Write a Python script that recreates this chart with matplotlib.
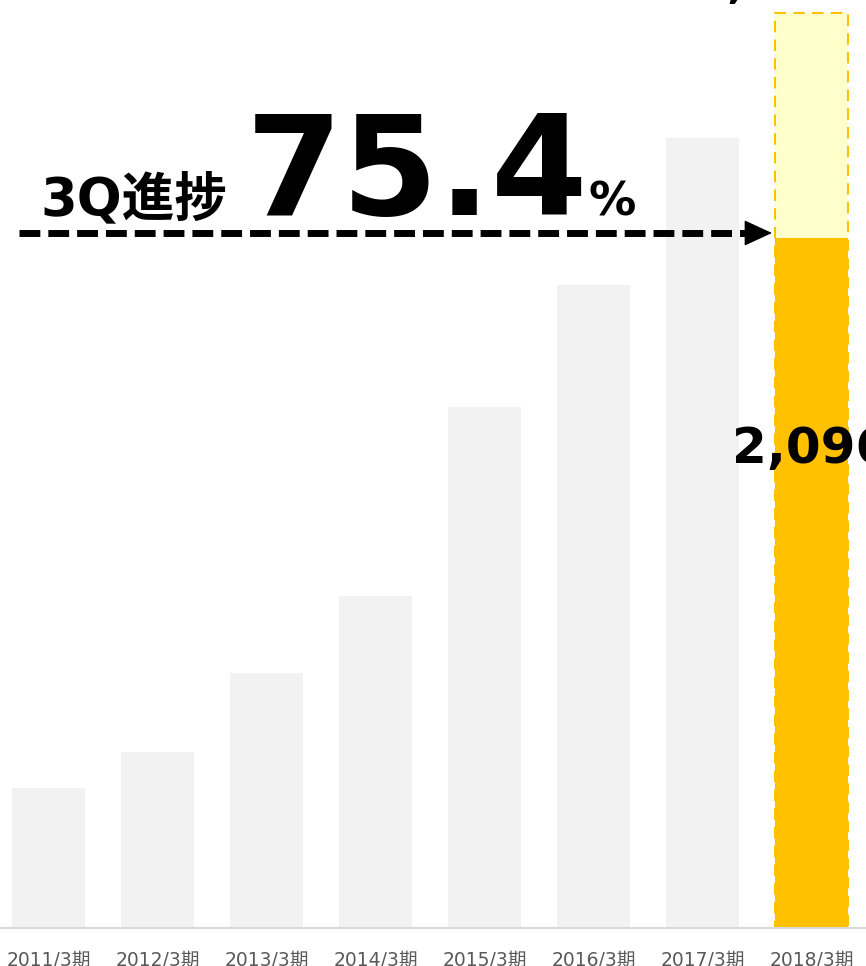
import matplotlib
matplotlib.use('Agg')
import matplotlib.pyplot as plt
from matplotlib.lines import Line2D

periods = ['2011/3期', '2012/3期', '2013/3期', '2014/3期',
           '2015/3期', '2016/3期', '2017/3期', '2018/3期']
past_values = [425, 535, 775, 1009, 1583, 1953, 2400]
actual_3q = 2096
full_year_target = 2780
progress_title = '3Q進捗'

plt.rcParams['font.family'] = ['DejaVu Sans', 'Noto Sans CJK JP']

W, H = 866, 966
fig = plt.figure(figsize=(W / 100, H / 100), dpi=100)
ax = fig.add_axes([0, 38 / H, 1, 928 / H])

xs = list(range(len(periods)))
bw = 0.67
ax.bar(xs[:len(past_values)], past_values, width=bw, color='#F2F2F2', zorder=2)
ax.bar(xs[-1], full_year_target, width=bw, color='#FFFFCC', zorder=2)
ax.bar(xs[-1], actual_3q, width=bw, color='#FFC000', zorder=3)
ax.bar(xs[-1], full_year_target, width=bw, fill=False, edgecolor='#FFC000',
       linewidth=1.5, linestyle=(0, (5.5, 3.5)), zorder=4)

ax.set_xlim(-0.445, 7.5)
ax.set_ylim(0, full_year_target * 928 / 915)
for s in ['top', 'left', 'right']:
    ax.spines[s].set_visible(False)
ax.spines['bottom'].set_color('#D9D9D9')
ax.spines['bottom'].set_linewidth(1.5)
ax.spines['bottom'].set_zorder(5)
ax.set_yticks([])
ax.set_xticks(xs)
ax.set_xticklabels(periods)
ax.tick_params(axis='x', length=0, pad=16.5, labelsize=13.5, labelcolor='#595959')

# value label for 3Q actual
ax.text(xs[-1], 1455, f'{actual_3q:,}', ha='center', va='center',
        fontsize=36, fontweight='bold', color='black', zorder=6)

# target label (mostly outside the figure)
ax.annotate(f'{full_year_target:,}', xy=(xs[-1], H + 3.5),
            xycoords=('data', 'figure pixels'), xytext=(-40, 0),
            textcoords='offset pixels', ha='center', va='baseline',
            fontsize=36, fontweight='bold', color='black', annotation_clip=False)

# progress text
progress = actual_3q / full_year_target * 100
fig.text(40 / W, 1 - 215 / H, progress_title, ha='left', va='baseline',
         fontsize=38, fontweight='bold', color='black')
fig.text(246 / W, 1 - 215 / H, f'{progress:.1f}', ha='left', va='baseline',
         fontsize=100, fontweight='bold', color='black')
fig.text(588 / W, 1 - 215 / H, '%', ha='left', va='baseline',
         fontsize=34, fontweight='bold', color='black')

# dashed arrow
fig.add_artist(Line2D([19 / W, 748 / W], [1 - 233 / H] * 2, transform=fig.transFigure,
                      color='black', linewidth=5, linestyle=(0, (3, 1.15)),
                      dash_capstyle='butt'))
ax.annotate('', xy=(772, H - 233), xytext=(742, H - 233), xycoords='figure pixels',
            arrowprops=dict(arrowstyle='-|>,head_length=1.8,head_width=0.83',
                            color='black', lw=1, shrinkA=0, shrinkB=0),
            annotation_clip=False)

fig.savefig('out.png', dpi=100)
